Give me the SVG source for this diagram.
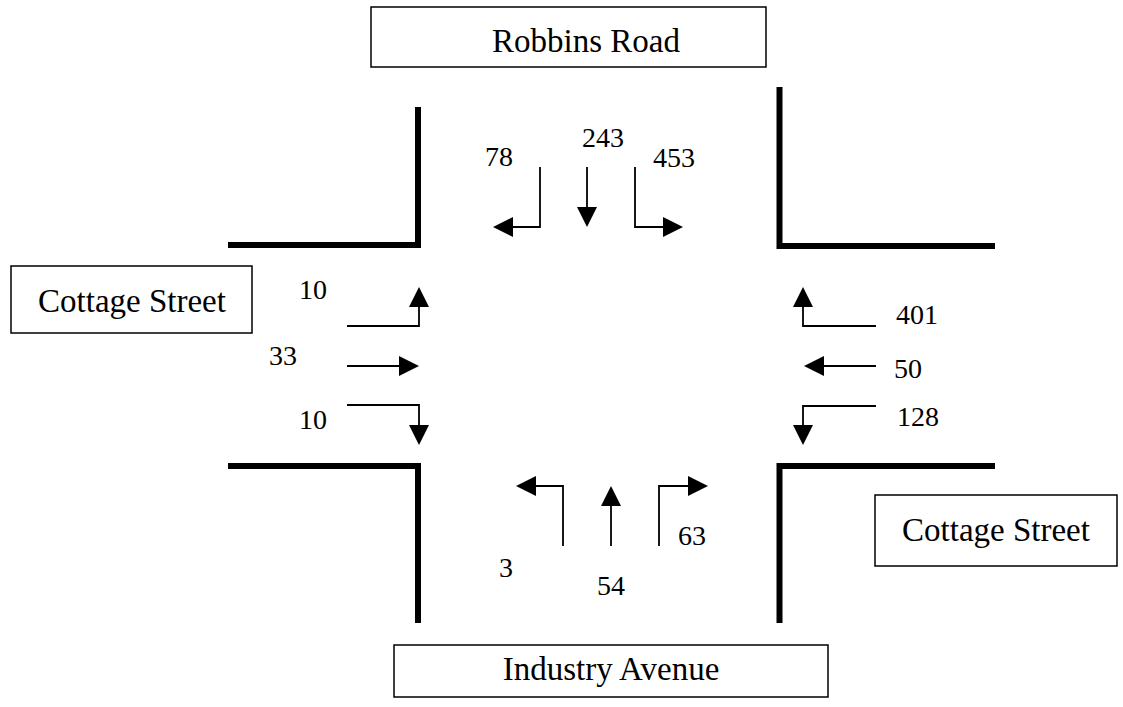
<svg xmlns="http://www.w3.org/2000/svg" width="1123" height="707" viewBox="0 0 1123 707">
<style>
.box{fill:#fff;stroke:#000;stroke-width:1.5}
.lbl{font-family:"Liberation Serif","Times New Roman",serif;font-size:33px;fill:#000;text-anchor:middle}
.num{font-family:"Liberation Serif","Times New Roman",serif;font-size:28px;fill:#000}
.road{fill:none;stroke:#000;stroke-width:6;stroke-linejoin:miter}
.arr{fill:none;stroke:#000;stroke-width:1.8;marker-end:url(#ah)}
</style>
<defs>
<marker id="ah" viewBox="0 0 20 20" refX="0" refY="10" markerWidth="20" markerHeight="20" markerUnits="userSpaceOnUse" orient="auto">
<path d="M0,0 L20,10 L0,20 Z" fill="#000"/>
</marker>
</defs>
<rect width="1123" height="707" fill="#fff"/>
<g id="roads">
<path class="road" d="M228,245 H418 V107"/>
<path class="road" d="M995,246 H779.5 V87"/>
<path class="road" d="M228,466 H418 V623"/>
<path class="road" d="M995,466 H779.5 V623"/>
</g>
<g id="robbins-road">
<rect class="box" x="371" y="7" width="395" height="60"/>
<text class="lbl" x="586" y="52">Robbins Road</text>
</g>
<g id="cottage-street-west">
<rect class="box" x="11" y="266" width="241" height="67"/>
<text class="lbl" x="132" y="312">Cottage Street</text>
</g>
<g id="cottage-street-east">
<rect class="box" x="875" y="495" width="242" height="71"/>
<text class="lbl" x="996" y="541">Cottage Street</text>
</g>
<g id="industry-avenue">
<rect class="box" x="394" y="645" width="434" height="52"/>
<text class="lbl" x="611" y="680">Industry Avenue</text>
</g>
<g id="connectors">
<path class="arr" d="M540,167 V227 H513"/>
<path class="arr" d="M587,167 V207"/>
<path class="arr" d="M635,167 V227 H663"/>
<path class="arr" d="M347,326 H419 V307"/>
<path class="arr" d="M347,366 H399"/>
<path class="arr" d="M347,405 H419 V425"/>
<path class="arr" d="M876,326 H803 V307"/>
<path class="arr" d="M876,366 H824"/>
<path class="arr" d="M876,406 H803 V425"/>
<path class="arr" d="M563,546 V486 H536"/>
<path class="arr" d="M611,546 V506"/>
<path class="arr" d="M659,546 V486 H688"/>
</g>
<g id="counts">
<text class="num" x="485" y="166">78</text>
<text class="num" x="582" y="147">243</text>
<text class="num" x="653" y="167">453</text>
<text class="num" x="299" y="299">10</text>
<text class="num" x="269" y="365">33</text>
<text class="num" x="299" y="429">10</text>
<text class="num" x="896" y="324">401</text>
<text class="num" x="894" y="378">50</text>
<text class="num" x="897" y="426">128</text>
<text class="num" x="499" y="577">3</text>
<text class="num" x="597" y="595">54</text>
<text class="num" x="678" y="545">63</text>
</g>
</svg>
